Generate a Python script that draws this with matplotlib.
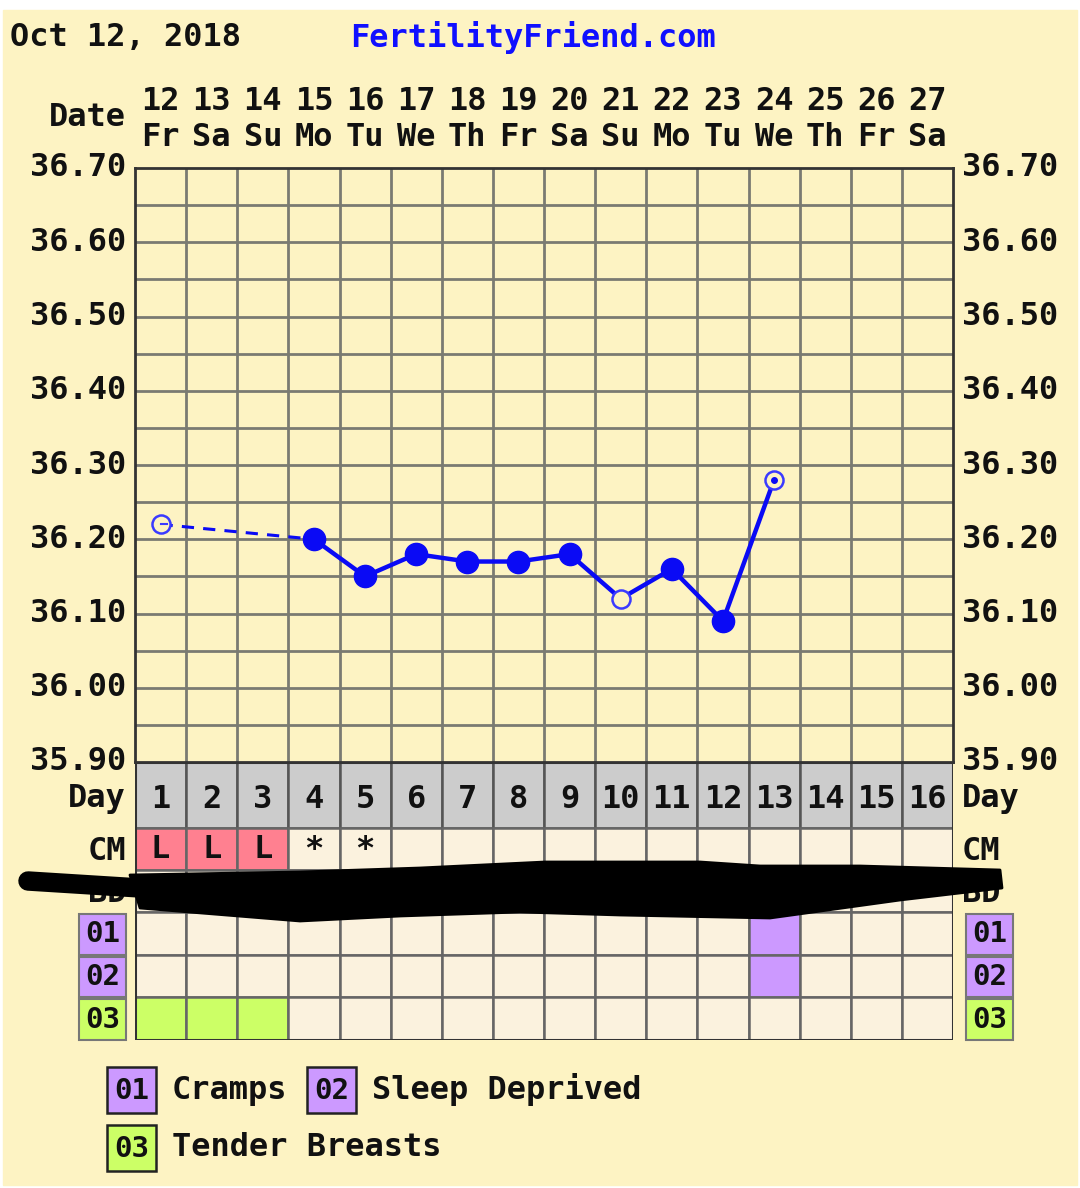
import numpy as np
import matplotlib
matplotlib.use("Agg")
import matplotlib.pyplot as plt
from matplotlib.patches import Rectangle, Polygon

# chart data
days = list(range(1, 17))
dates = [12, 13, 14, 15, 16, 17, 18, 19, 20, 21, 22, 23, 24, 25, 26, 27]
weekdays = ['Fr', 'Sa', 'Su', 'Mo', 'Tu', 'We', 'Th', 'Fr', 'Sa', 'Su', 'Mo', 'Tu', 'We', 'Th', 'Fr', 'Sa']
temps = [36.22, np.nan, np.nan, 36.20, 36.15, 36.18, 36.17, 36.17, 36.18, 36.12, 36.16, 36.09, 36.28,
         np.nan, np.nan, np.nan]
open_days = [1, 10, 13]
cm_marks = ['L', 'L', 'L', '*', '*', '', '', '', '', '', '', '', '', '', '', '']
sym_codes = ['01', '02', '03']
sym_names = ['Cramps', 'Sleep Deprived', 'Tender Breasts']
sym_days = {'01': [13], '02': [13], '03': [1, 2, 3]}
yticks = [35.90, 36.00, 36.10, 36.20, 36.30, 36.40, 36.50, 36.60, 36.70]

BG = '#fdf3c3'
CELL = '#fbf2de'
GRID = '#7a7a72'
BLUE = '#0a0af5'
PURPLE = '#cc99ff'
GREEN = '#ccff66'
PINK = '#ff8090'
FS = 23
FONT = dict(family='DejaVu Sans Mono', weight='bold', color='#111111')

W, H = 1080, 1188
fig = plt.figure(figsize=(W / 100, H / 100), dpi=100, facecolor='white')

def fx(px):
    return px / W

def fy(py):
    return 1 - py / H

# overlay for page text, in pixel coords
page = fig.add_axes([0, 0, 1, 1], zorder=0)
page.set_xlim(0, W)
page.set_ylim(H, 0)
page.axis('off')
page.add_patch(Rectangle((3, 10), W - 6, H - 13, color=BG, zorder=0))

L, R, T, B = 135, 953, 168, 762
ax = fig.add_axes([fx(L), fy(B), fx(R) - fx(L), (B - T) / H], zorder=2)
ax.set_facecolor(BG)
ax.set_xlim(0.5, 16.5)
ax.set_ylim(35.90, 36.70)
for v in np.arange(1.5, 16.5, 1):
    ax.axvline(v, color=GRID, lw=2, zorder=1)
for v in np.arange(35.95, 36.70, 0.05):
    ax.axhline(v, color=GRID, lw=2, zorder=1)
for s in ax.spines.values():
    s.set_color('#333333')
    s.set_linewidth(2)
ax.set_xticks([])
ax.set_yticks([])

t = np.array(temps)
d = np.array(days)
# dashed from first reading to day 4, solid afterwards
ax.plot([d[0], d[3]], [t[0], t[3]], color=BLUE, lw=2.2, ls=(0, (4, 3)), zorder=3)
ax.plot(d[3:13], t[3:13], color=BLUE, lw=3.2, zorder=3)
for dd, tt in zip(d, t):
    if np.isnan(tt):
        continue
    if dd in open_days:
        ax.plot(dd, tt, 'o', ms=13, mfc=BG, mec='#3a3aff', mew=1.8, zorder=4)
        if dd == 13:
            ax.plot(dd, tt, 'o', ms=4, color=BLUE, zorder=5)
        if dd == 1:
            ax.plot([dd, dd + 0.12], [tt, tt], color='#3a3aff', lw=1.5, zorder=5)
    else:
        ax.plot(dd, tt, 'o', ms=16, color=BLUE, zorder=4)

# y labels on both sides
for v in yticks:
    py = B - (v - 35.90) / 0.80 * (B - T)
    page.text(126, py, f'{v:.2f}', ha='right', va='center', fontsize=FS, **FONT)
    page.text(962, py, f'{v:.2f}', ha='left', va='center', fontsize=FS, **FONT)

# header
page.text(10, 37, 'Oct 12, 2018', ha='left', va='center', fontsize=FS, **FONT)
page.text(350, 37, 'FertilityFriend.com', ha='left', va='center', fontsize=FS,
          family='DejaVu Sans Mono', weight='bold', color='#1010ff')
page.text(126, 118, 'Date', ha='right', va='center', fontsize=FS, **FONT)
colw = (R - L) / 16
for i, (dt, wd) in enumerate(zip(dates, weekdays)):
    cx = L + colw * (i + 0.5)
    page.text(cx, 101, str(dt), ha='center', va='center', fontsize=FS, **FONT)
    page.text(cx, 137, wd, ha='center', va='center', fontsize=FS, **FONT)

# table below chart
rows = [762, 828, 870, 912, 955, 997, 1040]
tb = fig.add_axes([fx(L), fy(rows[-1]), fx(R) - fx(L), (rows[-1] - rows[0]) / H], zorder=2)
tb.set_xlim(0.5, 16.5)
tb.set_ylim(rows[-1], rows[0])
tb.axis('off')
for i, dd in enumerate(days):
    x0 = dd - 0.5
    tb.add_patch(Rectangle((x0, rows[0]), 1, rows[1] - rows[0], fc='#cccccc', ec='#555555', lw=1.8))
    tb.text(dd, (rows[0] + rows[1]) / 2 + 4, str(dd), ha='center', va='center', fontsize=FS, **FONT)
    mark = cm_marks[i]
    tb.add_patch(Rectangle((x0, rows[1]), 1, rows[2] - rows[1], fc=PINK if mark == 'L' else CELL,
                           ec='#666666', lw=1.8))
    if mark:
        tb.text(dd, (rows[1] + rows[2]) / 2 + 1, mark, ha='center', va='center', fontsize=FS, **FONT)
    tb.add_patch(Rectangle((x0, rows[2]), 1, rows[3] - rows[2], fc=CELL, ec='#666666', lw=1.8))
    for k, code in enumerate(sym_codes):
        on = dd in sym_days[code]
        fc = (PURPLE if code != '03' else GREEN) if on else CELL
        tb.add_patch(Rectangle((x0, rows[3 + k]), 1, rows[4 + k] - rows[3 + k], fc=fc,
                               ec='#666666', lw=1.8))
tb.add_patch(Rectangle((0.5, rows[0]), 16, rows[-1] - rows[0], fill=False, ec='#333333', lw=2.2))

# row labels
for side in ('left', 'right'):
    xt = 126 if side == 'left' else 962
    ha = 'right' if side == 'left' else 'left'
    page.text(xt, 798, 'Day', ha=ha, va='center', fontsize=FS, **FONT)
    page.text(xt, 852, 'CM', ha=ha, va='center', fontsize=FS, **FONT)
    page.text(xt, 894, 'BD', ha=ha, va='center', fontsize=FS, **FONT)
    bx = 79 if side == 'left' else 966
    for k, code in enumerate(sym_codes):
        y0, y1 = rows[3 + k], rows[4 + k]
        page.add_patch(Rectangle((bx, y0 + 2), 47, y1 - y0 - 2, fc=PURPLE if code != '03' else GREEN,
                                 ec='#777777', lw=1.5, zorder=2))
        page.text(bx + 23.5, (y0 + y1) / 2 + 1, code, ha='center', va='center', fontsize=21, zorder=3, **FONT)

# symptom legend
legend_pos = [(107, 1090), (307, 1090), (107, 1148)]
for code, name, (lx, ly) in zip(sym_codes, sym_names, legend_pos):
    page.add_patch(Rectangle((lx, ly - 23), 49, 46, fc=PURPLE if code != '03' else GREEN,
                             ec='#222222', lw=1.8, zorder=2))
    page.text(lx + 24.5, ly + 1, code, ha='center', va='center', fontsize=21, zorder=3, **FONT)
    page.text(lx + 65, ly, name, ha='left', va='center', fontsize=FS, zorder=3, **FONT)

# redaction scribble over the BD row
over = fig.add_axes([0, 0, 1, 1], zorder=5)
over.set_xlim(0, W)
over.set_ylim(H, 0)
over.axis('off')
over.plot([28, 140], [881, 888], color='black', lw=14, solid_capstyle='round')
over.add_patch(Polygon([(130, 875), (300, 872), (420, 868), (545, 862), (700, 862), (760, 866),
                        (860, 866), (1000, 870), (1002, 888), (900, 900), (770, 918), (620, 915),
                        (520, 912), (400, 916), (300, 921), (140, 908)],
                       closed=True, fc='black', ec='black', lw=2, joinstyle='round'))

fig.savefig('out.png', dpi=100, facecolor='white')
